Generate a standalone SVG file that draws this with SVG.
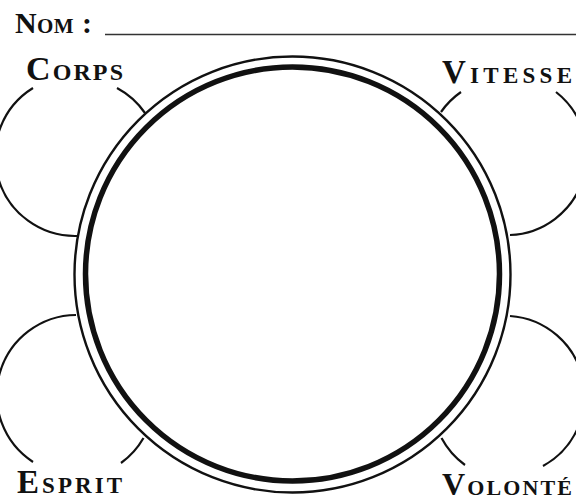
<svg xmlns="http://www.w3.org/2000/svg" width="576" height="504" viewBox="0 0 576 504">
<style>
.lbl{font-family:"Liberation Serif","DejaVu Serif",serif;font-weight:bold;font-variant:small-caps;fill:#111}
.arc{fill:none;stroke:#111;stroke-width:2.2;stroke-linecap:butt}
</style>
<rect width="576" height="504" fill="#fff"/>
<g id="header">
<text class="lbl" x="15" y="33" font-size="30" textLength="77">Nom :</text>
<line x1="105" y1="34.5" x2="576" y2="34.5" stroke="#333" stroke-width="1.6"/>
</g>
<g id="main-circle">
<circle cx="292.5" cy="274.5" r="218" fill="#fff" stroke="#111" stroke-width="2.4"/>
<circle cx="292.5" cy="274" r="207" fill="#fff" stroke="#111" stroke-width="5.5"/>
</g>
<g id="connectors">
<path class="arc" d="M33,88 A80,80 0 0 0 77,236"/>
<path class="arc" d="M117,88 A80,80 0 0 1 145,113"/>
<path class="arc" d="M556,92 A80,80 0 0 1 510,235"/>
<path class="arc" d="M461,92 A80,80 0 0 0 441,112"/>
<path class="arc" d="M76,315 A80,80 0 0 0 33,462"/>
<path class="arc" d="M121,463 A80,80 0 0 0 143.5,438"/>
<path class="arc" d="M510,316 A80,80 0 0 1 543,466"/>
<path class="arc" d="M465,465 A80,80 0 0 1 441.5,438"/>
</g>
<g id="corps"><text class="lbl" x="26" y="80" font-size="34" textLength="97">Corps</text></g>
<g id="vitesse"><text class="lbl" x="442" y="83" font-size="33" textLength="130">Vitesse</text></g>
<g id="esprit"><text class="lbl" x="17" y="493" font-size="33" textLength="105">Esprit</text></g>
<g id="volonte"><text class="lbl" x="442" y="495" font-size="32" textLength="130">Volonté</text></g>
</svg>
